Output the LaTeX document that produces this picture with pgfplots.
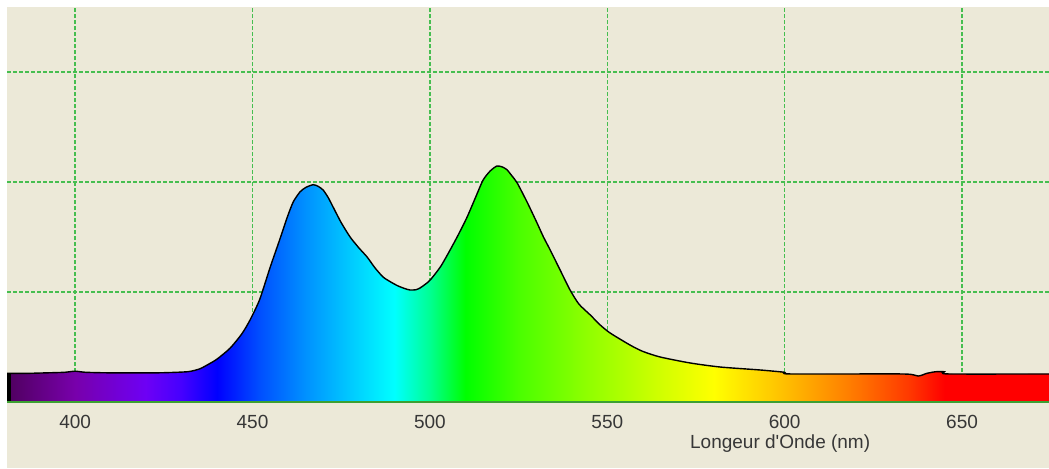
\documentclass[border=0pt]{standalone}
\usepackage{fontspec}
\setmainfont{Liberation Sans}
\usepackage{pgfplots}
\usepackage{pgfplotstable}
\pgfplotsset{compat=1.18}

\definecolor{bg}{RGB}{236,233,216}
\definecolor{gridgreen}{RGB}{70,190,80}
\definecolor{axgreen}{RGB}{60,160,50}
\definecolor{labelgray}{RGB}{55,55,55}

% spectrum colours, positions: 25bp..75bp <-> 380.8..674.5 nm
\pgfdeclarehorizontalshading{spectrum}{100bp}{%
  rgb(0bp)=(0.31,0,0.37); rgb(25bp)=(0.31,0,0.37); rgb(28.27bp)=(0.47,0,0.67);
  rgb(31.67bp)=(0.43,0,0.96); rgb(33.38bp)=(0.27,0,1); rgb(35.08bp)=(0,0,1);
  rgb(37.13bp)=(0,0.31,1); rgb(39.34bp)=(0,0.57,1); rgb(41.55bp)=(0,0.80,1);
  rgb(43.59bp)=(0,1,1); rgb(45.30bp)=(0,1,0.57); rgb(47.00bp)=(0,1,0);
  rgb(49.56bp)=(0.29,1,0); rgb(52.96bp)=(0.57,1,0); rgb(56.37bp)=(0.82,1,0);
  rgb(58.92bp)=(1,1,0); rgb(62.33bp)=(1,0.745,0); rgb(65.73bp)=(1,0.465,0);
  rgb(68.29bp)=(1,0.22,0); rgb(69.99bp)=(1,0,0); rgb(75bp)=(1,0,0);
  rgb(100bp)=(1,0,0)}

\pgfplotstableread{
x y
380.8 0.26
386 0.26
392 0.265
397 0.27
400 0.28
403 0.27
410 0.265
423 0.265
431.6 0.275
435 0.30
437.2 0.336
440 0.39
443.7 0.49
447 0.62
449.3 0.745
452 0.93
455.0 1.227
457.5 1.46
459.8 1.68
461.5 1.82
463.4 1.91
465 1.95
467.1 1.975
468.5 1.96
469.9 1.927
471.3 1.86
472.7 1.773
475 1.63
477.5 1.50
480 1.40
482.3 1.318
484.5 1.22
486.8 1.136
489 1.09
491.0 1.055
493 1.03
494.4 1.018
496 1.02
497.2 1.036
498.7 1.07
500.1 1.109
503 1.23
505.7 1.382
508 1.52
510.5 1.682
513 1.87
515.0 2.018
517 2.10
518.9 2.145
520.5 2.135
521.8 2.109
523 2.06
524.6 1.991
527.5 1.81
530.2 1.627
532 1.50
533.9 1.382
537 1.18
539.5 1.018
542 0.89
545.2 0.791
548 0.70
550.8 0.627
556.4 0.518
560 0.46
564.9 0.409
573.3 0.355
581.8 0.318
593.1 0.291
600 0.27
601.5 0.255
632.5 0.255
636.5 0.245
637.6 0.236
638.8 0.245
640 0.26
642.5 0.275
645 0.275
646.1 0.255
674.5 0.255
}\spec

\begin{document}
\color{labelgray}%
\begin{tikzpicture}
% page: white strip on top and left, beige elsewhere
\fill[white] (-3.5pt,-33pt) rectangle (521pt,201pt);
\fill[bg] (0pt,-33pt) rectangle (521pt,197.5pt);
\useasboundingbox (-3.5pt,-33pt) rectangle (521pt,201pt);
\begin{axis}[
    at={(0pt,0pt)}, anchor=south west,
    scale only axis,
    width=521pt, height=197.5pt,
    xmin=380.8, xmax=674.5,
    ymin=0, ymax=3.59,
    axis line style={draw=none},
    xtick={400,450,...,650},
    ytick={1,2,3},
    yticklabels={},
    major tick length=0pt,
    grid=major,
    major grid style={draw=gridgreen, line width=0.75pt, dash pattern=on 2pt off 1pt},
    /pgf/number format/assume math mode=true,
    ticklabel style={font=\fontsize{9.5}{11}\selectfont},
    xticklabel style={anchor=center, yshift=-10pt},
    xlabel={Longeur d\textquotesingle Onde (nm)},
    xlabel style={at={(rel axis cs:0.742,0)}, anchor=center, yshift=-21pt,
                  font=\fontsize{9.5}{11}\selectfont},
]
\addplot[draw=none, shade, shading=spectrum, smooth, tension=0.4] table {\spec} \closedcycle;
\addplot[black, line width=0.7pt, smooth, tension=0.4] table {\spec};
\addplot[black, line width=3.5pt] coordinates {(380.8,0) (380.8,0.26)};
\draw[axgreen, line width=1pt] (rel axis cs:0,0) -- (rel axis cs:1,0);
\end{axis}
\end{tikzpicture}
\end{document}
